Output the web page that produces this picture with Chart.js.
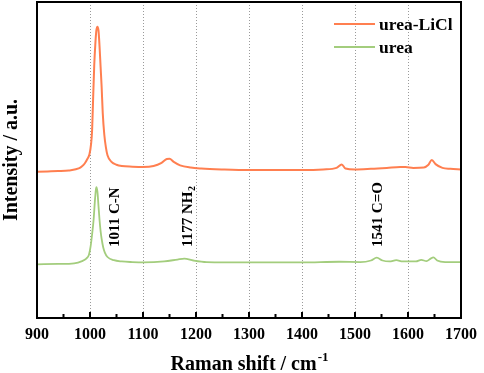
<!DOCTYPE html>
<html>
<head>
<meta charset="utf-8">
<script src="https://cdn.jsdelivr.net/npm/chart.js@4"></script>
<style>
  html, body { margin: 0; padding: 0; background: #fff; }
  #wrap { width: 484px; height: 373px; }
</style>
</head>
<body>
<div id="wrap"><canvas id="grafik"></canvas></div>
<script>
// data (intensitas relatif, 0-100)
const xLiCl = [900, 920, 940, 960, 980, 985, 990, 995, 999, 1002, 1004, 1006, 1008, 1010, 1012, 1014, 1016, 1018, 1020, 1022, 1024, 1027, 1030, 1033, 1040, 1050, 1060, 1080, 1100, 1120, 1135, 1145, 1150, 1158, 1170, 1190, 1210, 1250, 1300, 1350, 1400, 1440, 1465, 1475, 1482, 1500, 1530, 1560, 1585, 1595, 1610, 1630, 1638, 1645, 1652, 1665, 1680, 1700];
const yLiCl = [46.3, 46.4, 46.5, 46.7, 47.4, 48.0, 48.9, 50.3, 51.8, 55.0, 59.5, 70.0, 80.0, 86.5, 91.0, 92.2, 91.0, 86.0, 79.5, 73.0, 65.0, 58.0, 54.0, 51.5, 49.5, 48.5, 48.1, 47.9, 47.8, 48.1, 49.1, 50.3, 50.4, 49.4, 48.3, 47.6, 47.3, 47.0, 46.8, 46.8, 46.8, 47.0, 47.5, 48.6, 47.3, 47.0, 47.2, 47.5, 47.8, 47.8, 47.5, 47.6, 48.4, 50.0, 48.7, 47.5, 47.2, 47.0];

const xUrea = [900, 940, 970, 985, 993, 998, 1001, 1004, 1007, 1009, 1011, 1012, 1014, 1016, 1018, 1020, 1022, 1025, 1028, 1033, 1045, 1060, 1080, 1100, 1140, 1165, 1178, 1195, 1220, 1300, 1400, 1470, 1510, 1530, 1541, 1552, 1565, 1578, 1590, 1615, 1625, 1635, 1642, 1648, 1655, 1670, 1700];
const yUrea = [17.0, 17.1, 17.3, 18.0, 18.8, 20.0, 22.5, 26.5, 31.5, 36.5, 40.5, 41.4, 40.0, 35.5, 31.0, 27.5, 25.0, 22.3, 20.7, 19.3, 18.3, 17.9, 17.7, 17.6, 17.9, 18.5, 18.8, 18.2, 17.7, 17.6, 17.6, 17.8, 17.7, 18.2, 19.1, 18.2, 17.9, 18.3, 17.9, 17.9, 18.4, 18.0, 18.7, 19.2, 18.2, 17.7, 17.7];

const xTicks = [900, 1000, 1100, 1200, 1300, 1400, 1500, 1600, 1700];
const xMinor = [950, 1050, 1150, 1250, 1350, 1450, 1550, 1650];

// label puncak: teks, posisi x (pusat teks), y awal
const annoText = ['1011 C-N', '1177 NH', '1541 C=O'];
const annoSub = ['', '2', ''];
const annoX = [1048, 1185, 1543];
const annoY = [22.5, 22.5, 22.5];

const seriesNames = ['urea-LiCl', 'urea'];
const seriesColors = ['#ff7f50', '#a3cd7d'];

const FONT = '"Liberation Serif", "Times New Roman", serif';

function gabung(xs, ys) {
    return xs.map((x, i) => ({ x: x, y: ys[i] }));
}

const hiasan = {
    id: 'hiasan',
    afterDraw(chart) {
        const ctx = chart.ctx;
        const a = chart.chartArea;
        const sx = chart.scales.x, sy = chart.scales.y;
        ctx.save();

        // tick ke dalam
        ctx.strokeStyle = '#000';
        ctx.lineWidth = 2;
        xTicks.forEach(v => {
            const p = sx.getPixelForValue(v);
            ctx.beginPath(); ctx.moveTo(p, a.bottom); ctx.lineTo(p, a.bottom - 6); ctx.stroke();
        });
        xMinor.forEach(v => {
            const p = sx.getPixelForValue(v);
            ctx.beginPath(); ctx.moveTo(p, a.bottom); ctx.lineTo(p, a.bottom - 4); ctx.stroke();
        });

        // bingkai
        ctx.lineWidth = 2;
        ctx.strokeRect(a.left, a.top, a.right - a.left, a.bottom - a.top);

        // label puncak (vertikal)
        ctx.fillStyle = '#000';
        annoText.forEach((t, i) => {
            const px = sx.getPixelForValue(annoX[i]);
            const py = sy.getPixelForValue(annoY[i]);
            ctx.save();
            ctx.translate(px, py);
            ctx.rotate(-Math.PI / 2);
            ctx.font = 'bold 15px ' + FONT;
            ctx.textAlign = 'left';
            ctx.textBaseline = 'middle';
            ctx.fillText(t, 0, 0);
            if (annoSub[i]) {
                const w = ctx.measureText(t).width;
                ctx.font = 'bold 10px ' + FONT;
                ctx.fillText(annoSub[i], w + 0.5, 4);
            }
            ctx.restore();
        });

        // legenda
        ctx.font = 'bold 17.5px ' + FONT;
        ctx.textAlign = 'left';
        ctx.textBaseline = 'middle';
        seriesNames.forEach((n, i) => {
            const y = a.top + 22 + i * 23;
            ctx.strokeStyle = seriesColors[i];
            ctx.lineWidth = 2;
            ctx.beginPath(); ctx.moveTo(334, y); ctx.lineTo(375, y); ctx.stroke();
            ctx.fillStyle = '#000';
            ctx.fillText(n, 379, y + 1);
        });

        // judul sumbu x dengan pangkat
        const judul = 'Raman shift / cm';
        ctx.font = 'bold 20px ' + FONT;
        const w1 = ctx.measureText(judul).width;
        ctx.font = 'bold 13px ' + FONT;
        const w2 = ctx.measureText('-1').width;
        const cx = (a.left + a.right) / 2;
        const x0 = cx - (w1 + w2) / 2;
        ctx.textBaseline = 'alphabetic';
        ctx.font = 'bold 20px ' + FONT;
        ctx.fillText(judul, x0, 370);
        ctx.font = 'bold 13px ' + FONT;
        ctx.fillText('-1', x0 + w1 + 1, 361);

        ctx.restore();
    }
};

new Chart(document.getElementById('grafik'), {
    type: 'line',
    data: {
        datasets: [{
            label: seriesNames[0],
            data: gabung(xLiCl, yLiCl),
            borderColor: seriesColors[0],
            borderWidth: 2,
            pointRadius: 0,
            cubicInterpolationMode: 'monotone',
            fill: false
        }, {
            label: seriesNames[1],
            data: gabung(xUrea, yUrea),
            borderColor: seriesColors[1],
            borderWidth: 1.8,
            pointRadius: 0,
            cubicInterpolationMode: 'monotone',
            fill: false
        }]
    },
    options: {
        responsive: true,
        maintainAspectRatio: false,
        animation: false,
        layout: { padding: { left: 0, right: 17, top: 2, bottom: 0 } },
        plugins: {
            legend: { display: false },
            tooltip: { enabled: false }
        },
        scales: {
            x: {
                type: 'linear',
                min: 900,
                max: 1700,
                afterFit: (s) => { s.height = 55; },
                afterBuildTicks: (s) => { s.ticks = xTicks.map(v => ({ value: v })); },
                ticks: {
                    color: '#000',
                    font: { family: FONT, size: 16, weight: 'bold' },
                    padding: 7,
                    maxRotation: 0,
                    callback: (v) => String(v)
                },
                grid: {
                    color: '#9a9a9a',
                    lineWidth: 1,
                    drawTicks: false
                },
                border: { display: false, dash: [1, 2] }
            },
            y: {
                min: 0,
                max: 100,
                afterFit: (s) => { s.width = 37; },
                ticks: { display: false },
                grid: { display: false, drawTicks: false },
                border: { display: false },
                title: {
                    display: true,
                    text: 'Intensity / a.u.',
                    color: '#000',
                    font: { family: FONT, size: 20, weight: 'bold' },
                    padding: { top: 0, bottom: 0 }
                }
            }
        }
    },
    plugins: [hiasan]
});
</script>
</body>
</html>
